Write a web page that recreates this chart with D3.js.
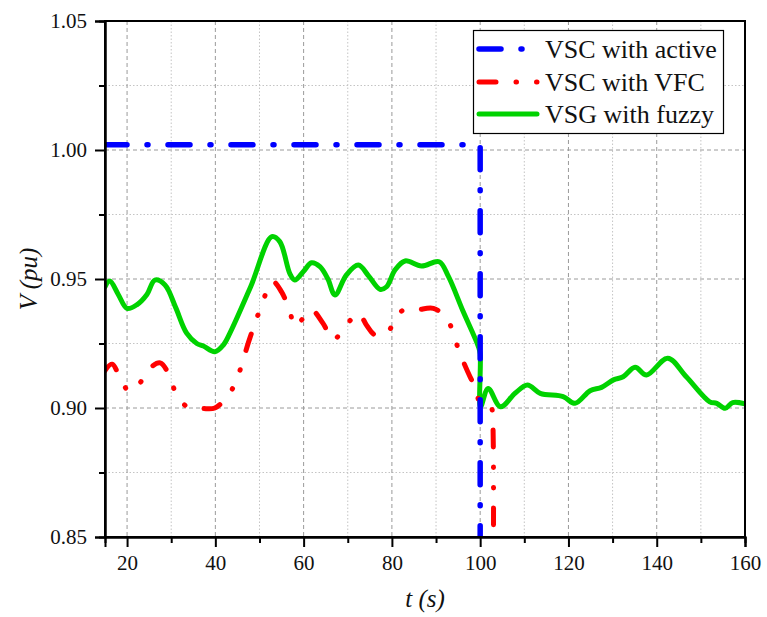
<!DOCTYPE html>
<html><head><meta charset="utf-8">
<script src="https://cdn.jsdelivr.net/npm/d3@7"></script>
<style>body{margin:0;background:#fff;} svg{display:block;} text{font-family:'Liberation Serif','Times New Roman',serif;}</style>
</head><body>
<svg id="chart" width="767" height="617"></svg>
<script>
// ---- data ----
const seriesNames = ["VSC with active", "VSC with VFC", "VSG with fuzzy"];
const xTicks = [20, 40, 60, 80, 100, 120, 140, 160];
const xMinorTicks = [30, 50, 70, 90, 110, 130, 150];
const yTicks = [0.85, 0.90, 0.95, 1.00, 1.05];
const yMinorTicks = [0.875, 0.925, 0.975, 1.025];

const activeT = [15, 100, 100];
const activeV = [1.002, 1.002, 0.80];

const vfcT = [15, 16.6, 18.6, 20.5, 22.9, 25.2, 27.5, 29.3, 31.6, 34.3, 37, 39.9, 42.9, 44.6, 47.8, 50.1, 53, 55, 56.9, 58, 60, 61.8, 64.4, 66.7, 69.4, 72.4, 74.3, 76.2, 78.8, 80.7, 82.6, 85.6, 89.4, 92.4, 95.4, 97.7, 99.2, 100, 102.5, 102.8, 102.85];
const vfcV = [0.9145, 0.917, 0.911, 0.9065, 0.9097, 0.9155, 0.9175, 0.9136, 0.9038, 0.8999, 0.8998, 0.900, 0.905, 0.910, 0.927, 0.938, 0.949, 0.945, 0.9373, 0.9315, 0.935, 0.938, 0.9328, 0.9264, 0.9315, 0.9367, 0.932, 0.9283, 0.929, 0.934, 0.938, 0.938, 0.9386, 0.9348, 0.9212, 0.9121, 0.907, 0.9012, 0.900, 0.897, 0.80];

const fuzzyT = [15, 16.1, 18, 20, 22.2, 24.5, 26.3, 28.6, 31, 33.5, 35.8, 37.3, 39.9, 41.8, 43.3, 48, 52.8, 54.6, 56.9, 58, 60, 61.8, 63.7, 65.5, 67.1, 69.7, 72.4, 74.8, 77.3, 78.8, 80.7, 83, 86.7, 90.7, 92.8, 96, 99.6, 100, 100.1, 101.8, 104.6, 107.9, 110.7, 113.6, 118.8, 121.5, 124.9, 127.5, 130.2, 132.4, 135.1, 137.7, 142.5, 146.7, 152, 153.6, 155.5, 157.2, 160];
const fuzzyV = [0.947, 0.9492, 0.944, 0.9386, 0.940, 0.944, 0.9496, 0.9477, 0.939, 0.929, 0.925, 0.924, 0.9218, 0.9244, 0.929, 0.947, 0.9664, 0.9645, 0.952, 0.9496, 0.953, 0.9563, 0.9548, 0.950, 0.9438, 0.9516, 0.9554, 0.951, 0.946, 0.947, 0.9535, 0.957, 0.955, 0.9567, 0.951, 0.938, 0.9238, 0.921, 0.9005, 0.9076, 0.9005, 0.9057, 0.9089, 0.9057, 0.9044, 0.9018, 0.9067, 0.908, 0.9109, 0.9121, 0.9158, 0.9128, 0.9193, 0.9121, 0.9024, 0.9018, 0.8999, 0.9021, 0.9016];

// ---- layout ----
const svg = d3.select("#chart");
const m = {left: 105, top: 21, right: 22, bottom: 80};
const W = 767, H = 617;
const pw = W - m.left - m.right, ph = H - m.top - m.bottom;
const FONT = "'Liberation Serif', 'Times New Roman', serif";

const x = d3.scaleLinear().domain([15, 160]).range([m.left, m.left + pw]);
const y = d3.scaleLinear().domain([0.85, 1.05]).range([m.top + ph, m.top]);

// grid
const g = svg.append("g");
g.selectAll(".vminor").data(xMinorTicks).join("line")
  .attr("x1", d => x(d)).attr("x2", d => x(d)).attr("y1", m.top).attr("y2", m.top + ph)
  .attr("stroke", "#c4c4c4").attr("stroke-width", 1).attr("stroke-dasharray", "1.5,2");
g.selectAll(".hminor").data(yMinorTicks).join("line")
  .attr("y1", d => y(d)).attr("y2", d => y(d)).attr("x1", m.left).attr("x2", m.left + pw)
  .attr("stroke", "#c4c4c4").attr("stroke-width", 1).attr("stroke-dasharray", "1.5,2");
g.selectAll(".vmajor").data(xTicks.filter(d => d < 160)).join("line")
  .attr("x1", d => x(d)).attr("x2", d => x(d)).attr("y1", m.top).attr("y2", m.top + ph)
  .attr("stroke", "#9a9a9a").attr("stroke-width", 1).attr("stroke-dasharray", "4,3");
g.selectAll(".hmajor").data(yTicks.filter(d => d > 0.85 && d < 1.05)).join("line")
  .attr("y1", d => y(d)).attr("y2", d => y(d)).attr("x1", m.left).attr("x2", m.left + pw)
  .attr("stroke", "#9a9a9a").attr("stroke-width", 1).attr("stroke-dasharray", "4,3");

// clip
svg.append("clipPath").attr("id", "clip").append("rect")
  .attr("x", m.left).attr("y", m.top).attr("width", pw).attr("height", ph);

const line = d3.line().x(d => x(d[0])).y(d => y(d[1])).curve(d3.curveCatmullRom.alpha(0.5));
const lineLin = d3.line().x(d => x(d[0])).y(d => y(d[1]));
const plot = svg.append("g").attr("clip-path", "url(#clip)");

const fuzzy = fuzzyT.map((t, i) => [t, fuzzyV[i]]);
const vfc = vfcT.map((t, i) => [t, vfcV[i]]);
const active = activeT.map((t, i) => [t, activeV[i]]);

const styles = [
  {color: "#0000ff", width: 5.5, dash: "22,20,1,20"},
  {color: "#ff0000", width: 5, dash: "17,20,0.5,20,0.5,20"},
  {color: "#00d200", width: 5, dash: null}
];

plot.append("path").attr("d", line(fuzzy)).attr("fill", "none")
  .attr("stroke", styles[2].color).attr("stroke-width", styles[2].width)
  .attr("stroke-linejoin", "round").attr("stroke-linecap", "round");
plot.append("path").attr("d", line(vfc)).attr("fill", "none")
  .attr("stroke", styles[1].color).attr("stroke-width", styles[1].width)
  .attr("stroke-dasharray", styles[1].dash)
  .attr("stroke-linejoin", "round").attr("stroke-linecap", "round");
plot.append("path").attr("d", lineLin(active)).attr("fill", "none")
  .attr("stroke", styles[0].color).attr("stroke-width", styles[0].width)
  .attr("stroke-dasharray", styles[0].dash)
  .attr("stroke-linejoin", "round").attr("stroke-linecap", "round");

// frame
svg.append("rect").attr("x", m.left).attr("y", m.top).attr("width", pw).attr("height", ph)
  .attr("fill", "none").attr("stroke", "#000").attr("stroke-width", 2);

// axes
const xAxis = d3.axisBottom(x).tickValues(xTicks).tickSize(10).tickPadding(8).tickFormat(d3.format("d"));
const xAxisMinor = d3.axisBottom(x).tickValues(xMinorTicks).tickSize(6).tickFormat("");
const yAxis = d3.axisLeft(y).tickValues(yTicks).tickSize(10).tickPadding(8).tickFormat(d3.format(".2f"));
const yAxisMinor = d3.axisLeft(y).tickValues(yMinorTicks).tickSize(6).tickFormat("");

function styleAxis(sel) {
  sel.style("font-family", FONT).style("font-size", "21px");
  sel.select(".domain").attr("stroke", "#000").attr("stroke-width", 2);
  sel.selectAll(".tick line").attr("stroke", "#000").attr("stroke-width", 2);
  sel.selectAll(".tick text").style("font-family", FONT).style("font-size", "21px").attr("fill", "#111");
}
svg.append("g").attr("transform", `translate(0,${m.top + ph})`).call(xAxisMinor).call(styleAxis);
svg.append("g").attr("transform", `translate(0,${m.top + ph})`).call(xAxis).call(styleAxis);
svg.append("g").attr("transform", `translate(${m.left},0)`).call(yAxisMinor).call(styleAxis);
svg.append("g").attr("transform", `translate(${m.left},0)`).call(yAxis).call(styleAxis);

// axis titles
svg.append("text").attr("x", m.left + pw / 2).attr("y", 607).attr("text-anchor", "middle")
  .attr("font-family", FONT).attr("font-size", 25).attr("font-style", "italic").attr("fill", "#111")
  .text("t (s)");
svg.append("text").attr("transform", `translate(37,${m.top + ph / 2}) rotate(-90)`)
  .attr("text-anchor", "middle")
  .attr("font-family", FONT).attr("font-size", 25).attr("font-style", "italic").attr("fill", "#111")
  .text("V (pu)");

// legend
const lg = svg.append("g");
lg.append("rect").attr("x", 473.5).attr("y", 30.5).attr("width", 250).attr("height", 103)
  .attr("fill", "#fff").attr("stroke", "#000").attr("stroke-width", 1.2);
const rowY = [49, 82, 114];
[0, 1, 2].forEach((k, i) => {
  const s = styles[k];
  lg.append("line").attr("x1", 479).attr("x2", 537).attr("y1", rowY[i]).attr("y2", rowY[i])
    .attr("stroke", s.color).attr("stroke-width", s.width)
    .attr("stroke-dasharray", s.dash).attr("stroke-linecap", "round");
  lg.append("text").attr("x", 545).attr("y", rowY[i] + 9)
    .attr("font-family", FONT).attr("font-size", 26).attr("fill", "#111")
    .text(seriesNames[k]);
});
</script>
</body></html>
